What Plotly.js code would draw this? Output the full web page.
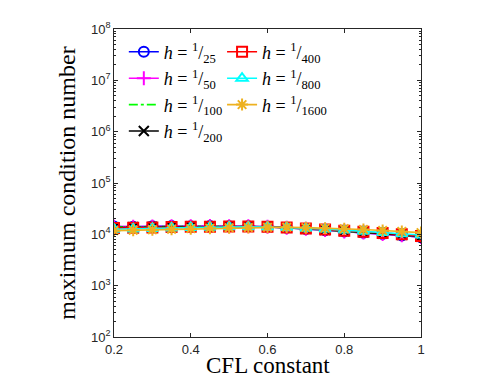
<!DOCTYPE html>
<html>
<head>
<meta charset="utf-8">
<script src="https://cdn.plot.ly/plotly-3.0.1.min.js"></script>
<style>
  html, body { margin: 0; padding: 0; background: #fff; }
  #chart { width: 499px; height: 387px; }
</style>
</head>
<body>
<div id="chart"></div>
<script>
// CFL constant vs maximum condition number, per mesh size h
const cfl = [0.2, 0.25, 0.3, 0.35, 0.4, 0.45, 0.5, 0.55, 0.6, 0.65, 0.7, 0.75, 0.8, 0.85, 0.9, 0.95, 1.0];

const cond_25   = [14200, 14000, 14300, 14500, 14400, 14500, 14400, 14300, 14000, 13400, 12700, 12000, 11300, 10700, 10100, 9500, 8800];
const cond_50   = [14100, 14000, 14200, 14400, 14400, 14500, 14400, 14300, 14000, 13500, 12800, 12100, 11400, 10800, 10200, 9600, 8900];
const cond_100  = [13900, 13900, 14100, 14300, 14300, 14400, 14400, 14300, 14000, 13500, 12900, 12200, 11500, 10900, 10300, 9700, 9000];
const cond_200  = [13600, 13700, 13900, 14100, 14200, 14300, 14300, 14200, 14000, 13600, 13000, 12300, 11600, 11000, 10400, 9800, 9100];
const cond_400  = [13300, 13400, 13600, 13900, 14000, 14100, 14200, 14200, 14000, 13600, 13000, 12400, 11800, 11200, 10600, 10000, 9300];
const cond_800  = [12600, 12700, 13000, 13300, 13600, 13800, 14000, 14000, 13900, 13600, 13200, 12700, 12100, 11500, 10900, 10300, 9700];
const cond_1600 = [11800, 12000, 12300, 12600, 12900, 13200, 13400, 13600, 13700, 13700, 13500, 13200, 12800, 12400, 11900, 11400, 10800];

const yTickVals = [1e2, 1e3, 1e4, 1e5, 1e6, 1e7, 1e8];
const yTickText = ['10<sup>2</sup>', '10<sup>3</sup>', '10<sup>4</sup>', '10<sup>5</sup>', '10<sup>6</sup>', '10<sup>7</sup>', '10<sup>8</sup>'];
const xTickVals = [0.2, 0.4, 0.6, 0.8, 1];
const xTickText = ['0.2', '0.4', '0.6', '0.8', '1'];

const SERIF = 'Liberation Serif, Times New Roman, serif';
const SANS = 'Liberation Sans, Arial, Helvetica, sans-serif';
const AXIS = '#262626';

// minor ticks 2..9 in each decade
const minorVals = [];
for (let e = 2; e < 8; e++) for (let k = 2; k <= 9; k++) minorVals.push(k * Math.pow(10, e));

function series(y, name, color, symbol, dash, legend) {
  return {
    x: cfl, y: y, name: name, type: 'scatter', mode: symbol ? 'lines+markers' : 'lines',
    line: { color: color, width: 1.6, dash: dash || 'solid' },
    marker: { symbol: symbol || 'circle', size: 10, color: color, line: { color: color, width: 2 } },
    legend: legend,
  };
}

const frac = (d) => '<i>h</i> = <sup>1</sup>/<sub>' + d + '</sub>';

const traces = [
  series(cond_25,   frac(25),   '#0000ff', 'circle-open',       null,      'legend'),
  series(cond_50,   frac(50),   '#ff00ff', 'cross-thin-open',   null,      'legend'),
  series(cond_100,  frac(100),  '#00ff00', null,                'dashdot', 'legend'),
  series(cond_200,  frac(200),  '#000000', 'x-thin-open',       null,      'legend'),
  series(cond_400,  frac(400),  '#ff0000', 'square-open',       null,      'legend2'),
  series(cond_800,  frac(800),  '#00ffff', 'triangle-up-open',  null,      'legend2'),
  series(cond_1600, frac(1600), '#edb120', 'asterisk-open',     null,      'legend2'),
];

const legendBase = {
  bgcolor: 'rgba(0,0,0,0)', borderwidth: 0,
  font: { family: SERIF, size: 18, color: '#000' },
  xanchor: 'left', yanchor: 'top', yref: 'paper', xref: 'paper',
  tracegroupgap: 0, itemwidth: 30,
};

const layout = {
  width: 499, height: 387,
  paper_bgcolor: '#fff', plot_bgcolor: '#fff',
  margin: { l: 114, r: 78, t: 29, b: 50 },
  showlegend: true,
  legend:  { ...legendBase, x: 0.032, y: 0.985 },
  legend2: { ...legendBase, x: 0.352, y: 0.985 },
  xaxis: {
    range: [0.2, 1], tickmode: 'array', tickvals: xTickVals, ticktext: xTickText,
    ticks: 'inside', ticklen: 4, tickcolor: AXIS, tickwidth: 0.8,
    showline: true, linecolor: AXIS, linewidth: 0.8, mirror: 'ticks',
    showgrid: false, zeroline: false,
    tickfont: { family: SANS, size: 13, color: AXIS },
  },
  yaxis: {
    type: 'log', range: [2, 8], tickmode: 'array', tickvals: yTickVals, ticktext: yTickText,
    ticks: 'inside', ticklen: 4, tickcolor: AXIS, tickwidth: 0.8,
    minor: { tickmode: 'array', tickvals: minorVals, ticks: 'inside', ticklen: 2, tickcolor: AXIS, tickwidth: 0.6, showgrid: false },
    showline: true, linecolor: AXIS, linewidth: 0.8, mirror: 'ticks',
    showgrid: false, zeroline: false,
    tickfont: { family: SANS, size: 13, color: AXIS },
    title: { text: 'maximum condition number', font: { family: SERIF, size: 24, color: '#000' }, standoff: 8 },
  },
  // x title placed by hand: it sits tighter under the tick labels than Plotly allows
  annotations: [{
    text: 'CFL constant', xref: 'paper', yref: 'paper', x: 0.5, y: -0.094,
    xanchor: 'center', yanchor: 'middle', showarrow: false,
    font: { family: SERIF, size: 23, color: '#000' },
  }],
};

Plotly.newPlot('chart', traces, layout, { displayModeBar: false, responsive: false });
</script>
</body>
</html>
